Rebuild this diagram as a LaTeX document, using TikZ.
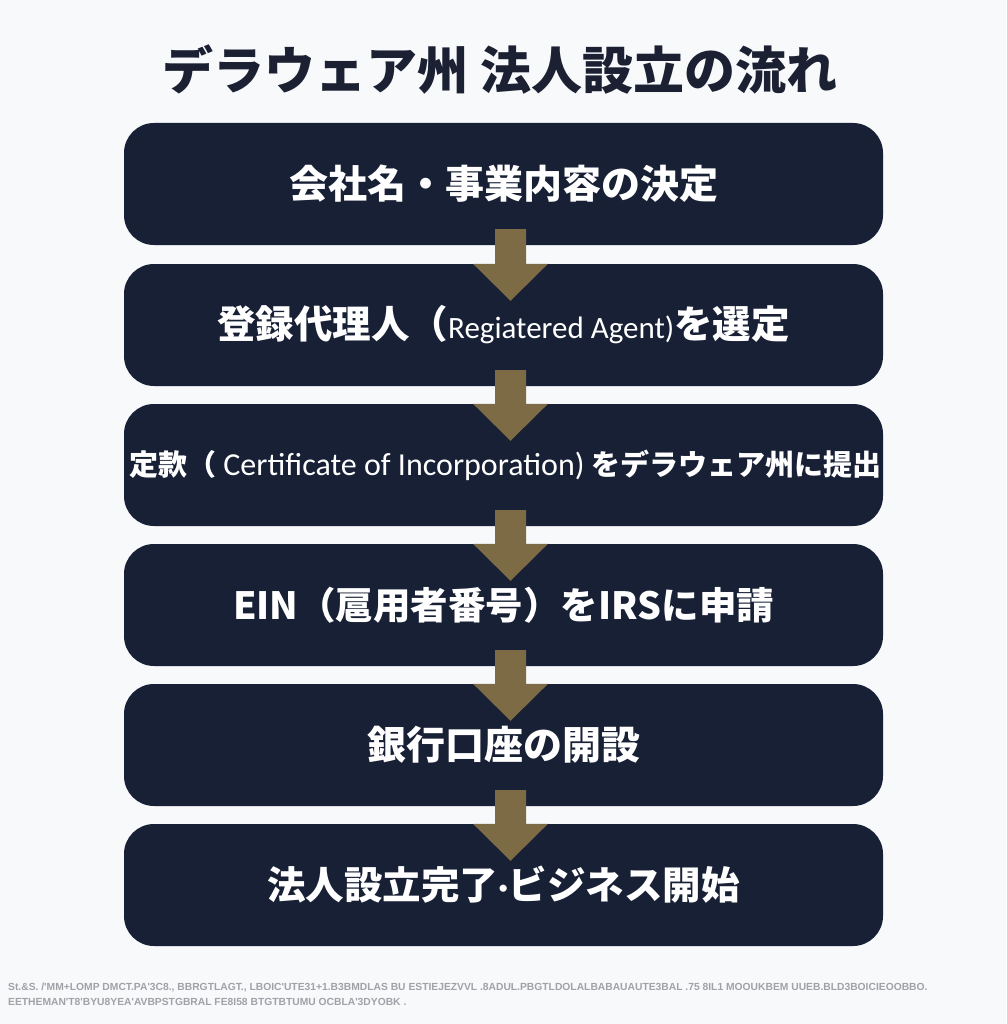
\documentclass[tikz,border=0pt]{standalone}
\usepackage{fontspec}
\setmainfont{Noto Sans CJK JP}
\newfontfamily\jp{Noto Sans CJK JP}
\newfontfamily\lat{Carlito}
\newfontfamily\foot{Liberation Sans}
\usetikzlibrary{calc}
\definecolor{bg}{HTML}{F8F9FB}
\definecolor{boxc}{HTML}{182036}
\definecolor{titlec}{HTML}{1B2133}
\definecolor{arrc}{HTML}{7D6B45}
\definecolor{footc}{HTML}{A0A2A8}
\begin{document}
\begin{tikzpicture}[x=1pt,y=-1pt,
  stepbox/.style={fill=boxc, rounded corners=30pt, minimum width=759pt,
    minimum height=122pt, text=white, inner sep=0pt,
    font=\jp\bfseries\fontsize{38}{42}\selectfont},
  flowarrow/.style={fill=arrc},
  foottext/.style={anchor=west, inner sep=0pt, text=footc,
    font=\foot\bfseries\fontsize{10.3}{12}\selectfont}]
\fill[bg] (0,0) rectangle (1006,1024);
\useasboundingbox (0,0) rectangle (1006,1024);
\node[text=titlec, font=\jp\bfseries\fontsize{51}{56}\selectfont] (title) at (500,70) {デラウェア州 法人設立の流れ};
\node[stepbox, font=\jp\bfseries\fontsize{39}{42}\selectfont] (b1) at (503.5,184) {会社名・事業内容の決定};
\node[stepbox, font=\jp\bfseries\fontsize{38.5}{42}\selectfont] (b2) at (503.5,325) {登録代理人（{\lat\mdseries\fontsize{31}{34}\selectfont Regiatered Agent)}を選定};
\node[stepbox, font=\jp\bfseries\fontsize{29}{32}\selectfont] (b3) at (503.5,465) {\hspace{4pt}定款（ {\lat\mdseries\fontsize{32}{35}\selectfont Certificate of Incorporation)} をデラウェア州に提出};
\node[stepbox, font=\jp\bfseries\fontsize{37.5}{42}\selectfont] (b4) at (503.5,605) {EIN（扈用者番号）をIRSに申請};
\node[stepbox, font=\jp\bfseries\fontsize{39}{42}\selectfont] (b5) at (503.5,745) {銀行口座の開設};
\node[stepbox, font=\jp\bfseries\fontsize{38.5}{42}\selectfont] (b6) at (503.5,885) {法人設立完了{\lat\bfseries ·}ビジネス開始};
\coordinate (ax) at (510.5,0);
\foreach \a/\b in {b1/b2,b2/b3,b3/b4,b4/b5,b5/b6}{
  \path (\a.south -| ax) coordinate (s) (\b.north -| ax) coordinate (t);
  \fill[flowarrow] ($(s)+(-15.5,-16)$) -- ($(s)+(15.5,-16)$) -- ($(t)+(15.5,0)$)
    -- ($(t)+(37.5,0)$) -- ($(t)+(0,37)$) -- ($(t)+(-37.5,0)$) -- ($(t)+(-15.5,0)$) -- cycle;
}
\node[foottext] (f1) at (8,988) {St.\&S. /'MM+LOMP DMCT.PA'3C8., BBRGTLAGT., LBOIC'UTE31+1.B3BMDLAS BU ESTIEJEZVVL .8ADUL.PBGTLDOLALBABAUAUTE3BAL .75 8IL1 MOOUKBEM UUEB.BLD3BOICIEOOBBO.};
\node[foottext] (f2) at (8,1002) {EETHEMAN'T8'BYU8YEA'AVBPSTGBRAL FE8I58 BTGTBTUMU OCBLA'3DYOBK .};
\end{tikzpicture}
\end{document}
